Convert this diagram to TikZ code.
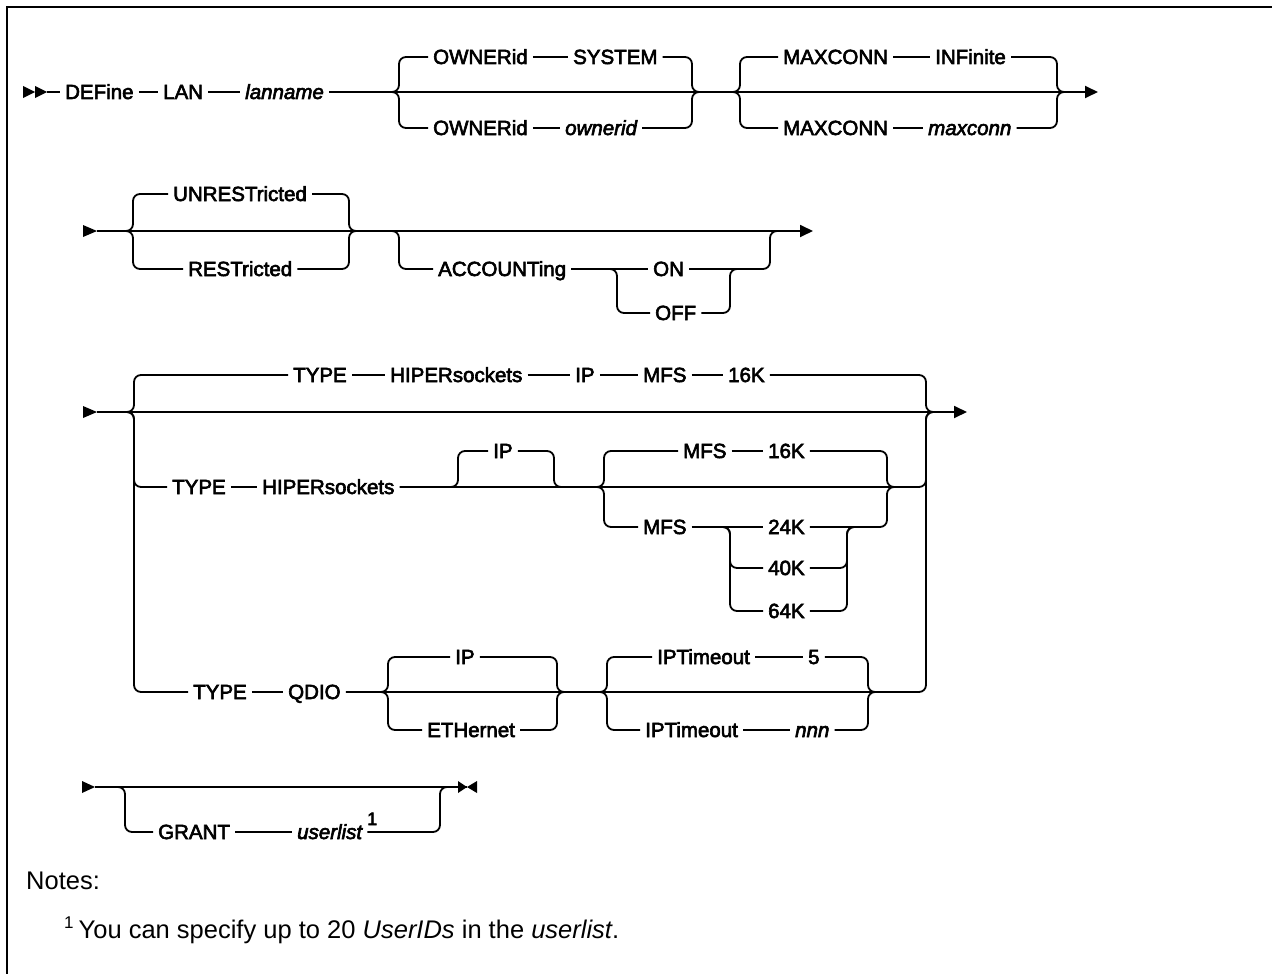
\documentclass[tikz,border=0pt]{standalone}
\usepackage{fontspec}
\setmainfont{Liberation Sans}
\newfontfamily\rrfont{Liberation Sans}[FakeBold=3]
\newfontfamily\notefont{Liberation Sans}
\usetikzlibrary{arrows.meta}
\tikzset{
  kw/.style={font=\rrfont\fontsize{20.5}{24}\selectfont, inner xsep=5pt, inner ysep=0pt,
             text height=14pt, text depth=0pt, anchor=west},
  track/.style={line width=1.8pt, rounded corners=7pt},
  endarrow/.style={-{Triangle[length=13pt,width=12pt]}},
  notetext/.style={font=\notefont\fontsize{25.5}{30}\selectfont, inner sep=0pt, anchor=base west},
  supone/.style={font=\rrfont\fontsize{18}{20}\selectfont, inner sep=0pt, anchor=base west},
  frame/.style={line width=2.5pt}
}
\begin{document}
\begin{tikzpicture}[x=1pt,y=-1pt]
\useasboundingbox (0,0) rectangle (1272,974);
\draw[frame] (7,974) -- (7,7) -- (1272,7);

% ---------------- Row 1 ----------------
\coordinate (s1) at (47,92);
\fill (23,86) -- (35,92) -- (23,98) -- cycle;
\fill (35,86) -- (s1) -- (35,98) -- cycle;
\node[kw] (define) at (60,92) {DEFine};
\node[kw] (lan) at (158,92) {LAN};
\node[kw] (lanname) at (240,92) {\itshape lanname};
\coordinate (f1) at (392,92);  \coordinate (f1v) at (399,92);
\node[kw] (own1) at (428,57) {OWNERid};
\node[kw] (system) at (568,57) {SYSTEM};
\node[kw] (own2) at (428,128) {OWNERid};
\node[kw] (ownerid) at (560,128) {\itshape ownerid};
\coordinate (j1v) at (692,92); \coordinate (j1) at (699,92);
\coordinate (f2) at (733,92);  \coordinate (f2v) at (740,92);
\node[kw] (max1) at (778,57) {MAXCONN};
\node[kw] (inf) at (930,57) {INFinite};
\node[kw] (max2) at (778,128) {MAXCONN};
\node[kw] (maxconn) at (923,128) {\itshape maxconn};
\coordinate (j2v) at (1057,92); \coordinate (j2) at (1064,92);
\coordinate (e1) at (1098,92);

\draw[track] (s1) -- (define.west);
\draw[track] (define.east) -- (lan.west);
\draw[track] (lan.east) -- (lanname.west);
\draw[track,endarrow] (lanname.east) -- (e1);
\draw[track] (f1) -- (f1v) |- (own1.west);
\draw[track] (f1) -- (f1v) |- (own2.west);
\draw[track] (own1.east) -- (system.west);
\draw[track] (own2.east) -- (ownerid.west);
\draw[track] (system.east) -| (j1v) -- (j1);
\draw[track] (ownerid.east) -| (j1v) -- (j1);
\draw[track] (f2) -- (f2v) |- (max1.west);
\draw[track] (f2) -- (f2v) |- (max2.west);
\draw[track] (max1.east) -- (inf.west);
\draw[track] (max2.east) -- (maxconn.west);
\draw[track] (inf.east) -| (j2v) -- (j2);
\draw[track] (maxconn.east) -| (j2v) -- (j2);

% ---------------- Row 2 ----------------
\coordinate (s2) at (97,231);
\fill (83,225) -- (s2) -- (83,237) -- cycle;
\coordinate (f3) at (126,231); \coordinate (f3v) at (133,231);
\node[kw] (unrest) at (168,194) {UNRESTricted};
\node[kw] (rest) at (183,269) {RESTricted};
\coordinate (j3v) at (349,231); \coordinate (j3) at (356,231);
\coordinate (f4) at (392,231); \coordinate (f4v) at (399,231);
\node[kw] (acc) at (433,269) {ACCOUNTing};
\coordinate (f5) at (610,269); \coordinate (f5v) at (617,269);
\node[kw] (on) at (648,269) {ON};
\node[kw] (off) at (650,313) {OFF};
\coordinate (j5v) at (730,269); \coordinate (j5) at (737,269);
\coordinate (j4v) at (770,231); \coordinate (j4) at (777,231);
\coordinate (e2) at (813,231);

\draw[track,endarrow] (s2) -- (e2);
\draw[track] (f3) -- (f3v) |- (unrest.west);
\draw[track] (f3) -- (f3v) |- (rest.west);
\draw[track] (unrest.east) -| (j3v) -- (j3);
\draw[track] (rest.east) -| (j3v) -- (j3);
\draw[track] (f4) -- (f4v) |- (acc.west);
\draw[track] (acc.east) -- (on.west);
\draw[track] (f5) -- (f5v) |- (off.west);
\draw[track] (off.east) -| (j5v) -- (j5);
\draw[track] (on.east) -| (j4v) -- (j4);

% ---------------- Row 3 ----------------
\coordinate (s3) at (97,412);
\fill (83,406) -- (s3) -- (83,418) -- cycle;
\coordinate (f6) at (127,412); \coordinate (f6v) at (134,412);
\node[kw] (type1) at (288,375) {TYPE};
\node[kw] (hip1) at (385,375) {HIPERsockets};
\node[kw] (ip1) at (570,375) {IP};
\node[kw] (mfs1) at (638,375) {MFS};
\node[kw] (k16a) at (723,375) {16K};
\coordinate (j6v) at (926,412); \coordinate (j6) at (933,412);
\coordinate (e3) at (967,412);

\node[kw] (type2) at (167,487) {TYPE};
\node[kw] (hip2) at (257,487) {HIPERsockets};
\coordinate (f7) at (451,487); \coordinate (f7v) at (458,487);
\node[kw] (ip2) at (488,451) {IP};
\coordinate (j7v) at (554,487); \coordinate (j7) at (561,487);
\coordinate (f8) at (597,487); \coordinate (f8v) at (604,487);
\node[kw] (mfs2) at (678,451) {MFS};
\node[kw] (k16b) at (763,451) {16K};
\node[kw] (mfs3) at (638,527) {MFS};
\coordinate (f9) at (723,527); \coordinate (f9v) at (730,527);
\node[kw] (k24) at (763,527) {24K};
\node[kw] (k40) at (763,568) {40K};
\node[kw] (k64) at (763,611) {64K};
\coordinate (j9v) at (847,527); \coordinate (j9) at (854,527);
\coordinate (j8v) at (887,487); \coordinate (j8) at (894,487);

\node[kw] (type3) at (188,692) {TYPE};
\node[kw] (qdio) at (283,692) {QDIO};
\coordinate (f10) at (381,692); \coordinate (f10v) at (388,692);
\node[kw] (ip3) at (450,657) {IP};
\node[kw] (eth) at (422,730) {ETHernet};
\coordinate (j10v) at (557,692); \coordinate (j10) at (564,692);
\coordinate (f11) at (600,692); \coordinate (f11v) at (607,692);
\node[kw] (ipt1) at (652,657) {IPTimeout};
\node[kw] (five) at (803,657) {5};
\node[kw] (ipt2) at (640,730) {IPTimeout};
\node[kw] (nnn) at (790,730) {\itshape nnn};
\coordinate (j11v) at (868,692); \coordinate (j11) at (875,692);

\draw[track,endarrow] (s3) -- (e3);
\draw[track] (f6) -- (f6v) |- (type1.west);
\draw[track] (type1.east) -- (hip1.west);
\draw[track] (hip1.east) -- (ip1.west);
\draw[track] (ip1.east) -- (mfs1.west);
\draw[track] (mfs1.east) -- (k16a.west);
\draw[track] (k16a.east) -| (j6v) -- (j6);

\draw[track] (f6) -- (f6v) |- (type2.west);
\draw[track] (type2.east) -- (hip2.west);
\draw[track] (hip2.east) -- (j8) -| (j6v) -- (j6);
\draw[track] (f7) -- (f7v) |- (ip2.west);
\draw[track] (ip2.east) -| (j7v) -- (j7);
\draw[track] (f8) -- (f8v) |- (mfs2.west);
\draw[track] (mfs2.east) -- (k16b.west);
\draw[track] (k16b.east) -| (j8v) -- (j8);
\draw[track] (f8) -- (f8v) |- (mfs3.west);
\draw[track] (mfs3.east) -- (k24.west);
\draw[track] (k24.east) -| (j8v) -- (j8);
\draw[track] (f9) -- (f9v) |- (k40.west);
\draw[track] (f9) -- (f9v) |- (k64.west);
\draw[track] (k40.east) -| (j9v) -- (j9);
\draw[track] (k64.east) -| (j9v) -- (j9);

\draw[track] (f6) -- (f6v) |- (type3.west);
\draw[track] (type3.east) -- (qdio.west);
\draw[track] (qdio.east) -- (j11) -| (j6v) -- (j6);
\draw[track] (f10) -- (f10v) |- (ip3.west);
\draw[track] (f10) -- (f10v) |- (eth.west);
\draw[track] (ip3.east) -| (j10v) -- (j10);
\draw[track] (eth.east) -| (j10v) -- (j10);
\draw[track] (f11) -- (f11v) |- (ipt1.west);
\draw[track] (f11) -- (f11v) |- (ipt2.west);
\draw[track] (ipt1.east) -- (five.west);
\draw[track] (ipt2.east) -- (nnn.west);
\draw[track] (five.east) -| (j11v) -- (j11);
\draw[track] (nnn.east) -| (j11v) -- (j11);

% ---------------- Row 4 ----------------
\coordinate (s4) at (95,787);
\fill (82,781) -- (s4) -- (82,793) -- cycle;
\coordinate (f12) at (118,787); \coordinate (f12v) at (125,787);
\node[kw] (grant) at (153,832) {GRANT};
\node[kw] (userlist) at (292,832) {\itshape userlist};
\node[supone] (sup1) at (367,825) {1};
\coordinate (j12v) at (440,787); \coordinate (j12) at (447,787);
\coordinate (e4) at (467,787);
\draw[track] (s4) -- (e4);
\fill (458,781) -- (e4) -- (458,793) -- cycle;
\fill (477,781) -- (e4) -- (477,793) -- cycle;
\draw[track] (f12) -- (f12v) |- (grant.west);
\draw[track] (grant.east) -- (userlist.west);
\draw[track] (userlist.east) -| (j12v) -- (j12);

% ---------------- Notes ----------------
\node[notetext] (notes) at (26,889) {Notes:};
\node[notetext] (fn) at (64,938) {{\fontsize{17}{17}\selectfont\raisebox{10pt}{1}}\hspace{5pt}You can specify up to 20 \textit{UserIDs} in the \textit{userlist}.};
\end{tikzpicture}
\end{document}
